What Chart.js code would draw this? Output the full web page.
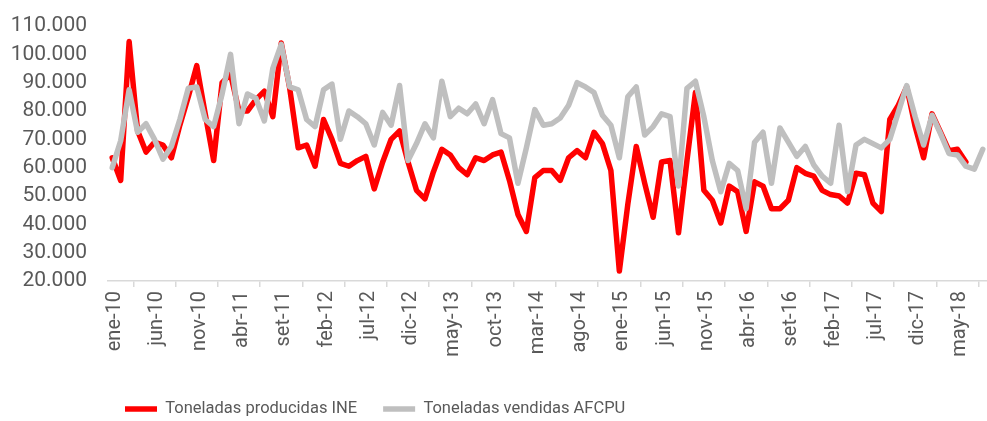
<!DOCTYPE html>
<html>
<head>
<meta charset="utf-8">
<script src="https://cdn.jsdelivr.net/npm/chart.js@4.4.1/dist/chart.umd.min.js"></script>
<style>
  html, body { margin: 0; padding: 0; background: #ffffff; }
  #wrap { width: 987px; height: 421px; position: relative; }
</style>
</head>
<body>
<div id="wrap"><canvas id="c" width="987" height="421"></canvas></div>
<script>
const monthNames = ['ene','feb','mar','abr','may','jun','jul','ago','set','oct','nov','dic'];
const years = ['10','11','12','13','14','15','16','17','18'];
const categories = [];
years.forEach(y => monthNames.forEach(m => categories.push(m + '-' + y)));
categories.length = 104; // ene-10 .. ago-18

const seriesNames = ['Toneladas producidas INE', 'Toneladas vendidas AFCPU'];

const producidasINE = [
  63500, 55500, 104500, 73000, 65500, 69000, 68000, 63500, 75000, 85000,
  96000, 79000, 62500, 90000, 93000, 80000, 80000, 84000, 87000, 78000,
  104000, 88000, 67000, 68000, 60500, 77000, 70000, 61500, 60500, 62500,
  64000, 52500, 62000, 70000, 73000, 62000, 52000, 49000, 58500, 66500,
  64500, 60000, 57500, 63500, 62500, 64500, 65500, 55500, 43500, 37500,
  56500, 59000, 59000, 55500, 63500, 66000, 63500, 72500, 68500, 59000,
  23500, 47000, 67500, 54500, 42500, 62000, 62500, 37000, 62500, 86500,
  52000, 48500, 40500, 53500, 51500, 37500, 55000, 53500, 45500, 45500,
  48500, 60000, 58000, 57000, 52000, 50500, 50000, 47500, 58000, 57500,
  47500, 44500, 77000, 82000, 88500, 74500, 63500, 79000, 72500, 66000,
  66500, 62000
];

const vendidasAFCPU = [
  60000, 69500, 87500, 72500, 75500, 70000, 63000, 67500, 77000, 88000,
  88500, 77000, 74500, 86000, 100000, 75500, 86000, 84500, 76500, 95000,
  103500, 88500, 87500, 77000, 74500, 87500, 89500, 70000, 80000, 78000,
  75500, 68000, 79500, 75000, 89000, 62500, 68500, 75500, 70500, 90500,
  78000, 81000, 79000, 82500, 75500, 84000, 72000, 70500, 54500, 67000,
  80500, 75000, 75500, 77500, 82000, 90000, 88500, 86500, 78500, 75000,
  63500, 85000, 88500, 71500, 74500, 79000, 78000, 53500, 88000, 90500,
  78000, 62500, 51500, 61500, 59000, 45500, 69000, 72500, 54500, 74000,
  69000, 64000, 67500, 61000, 57000, 54500, 75000, 51500, 68000, 70000,
  68500, 67000, 70000, 79500, 89000, 78000, 68000, 78500, 72000, 65000,
  64500, 60500, 59500, 66500
];

const yMin = 20000, yMax = 110000, yStep = 10000;
const labelEvery = 5;

function fmtThousands(v) {
  return String(v).replace(/\B(?=(\d{3})+(?!\d))/g, '.');
}

const TEXT = '#595959';
const AXIS = '#d9d9d9';
const FONT = 'Roboto';

const PLOT_BOTTOM = 281;
const PLOT_LEFT = 108;
const LEGEND_X = 125;
const LEGEND_CY = 409;

const legendPlacer = {
  id: 'legendPlacer',
  afterLayout(chart) {
    const l = chart.legend;
    if (!l) return;
    const pad = l.options.labels.padding;
    const dx = (LEGEND_X - pad) - l.left;
    l.left += dx; l.right += dx;
    const fs = l.options.labels.font.size;
    const dy = (LEGEND_CY - fs / 2 - pad) - l.top;
    l.top += dy; l.bottom += dy;
  }
};

new Chart(document.getElementById('c'), {
  type: 'line',
  data: {
    labels: categories,
    datasets: [
      {
        label: seriesNames[0],
        data: producidasINE,
        borderColor: '#ff0000',
        backgroundColor: '#ff0000',
        borderWidth: 5.5,
        pointRadius: 0,
        tension: 0,
        borderJoinStyle: 'round',
        borderCapStyle: 'round',
        fill: false,
        order: 1
      },
      {
        label: seriesNames[1],
        data: vendidasAFCPU,
        borderColor: '#bfbfbf',
        backgroundColor: '#bfbfbf',
        borderWidth: 5.5,
        pointRadius: 0,
        tension: 0,
        borderJoinStyle: 'round',
        borderCapStyle: 'round',
        fill: false,
        order: 0
      }
    ]
  },
  options: {
    responsive: false,
    animation: false,
    devicePixelRatio: 1,
    layout: { autoPadding: false, padding: { top: 26, right: 0, bottom: 0, left: 0 } },
    plugins: {
      tooltip: { enabled: false },
      legend: {
        display: true,
        position: 'bottom',
        align: 'start',
        labels: {
          color: TEXT,
          font: { family: FONT, size: 16.5 },
          usePointStyle: true,
          pointStyle: 'line',
          pointStyleWidth: 32,
          padding: 26,
          sort: (a, b) => a.datasetIndex - b.datasetIndex
        }
      }
    },
    scales: {
      x: {
        type: 'category',
        offset: true,
        grid: {
          display: true,
          offset: true,
          drawOnChartArea: false,
          drawTicks: true,
          tickLength: 6,
          color: AXIS,
          lineWidth: 1.5
        },
        border: { display: true, color: AXIS, width: 1.5 },
        ticks: {
          autoSkip: false,
          maxRotation: 90,
          minRotation: 90,
          padding: 4,
          labelOffset: 3,
          color: TEXT,
          font: { family: FONT, size: 20 },
          callback: function (value, index) {
            return index % labelEvery === 0 ? categories[index] : null;
          }
        },
        afterFit(s) {
          s.paddingLeft = 0; s.paddingRight = 0;
          const lh = s.chart.legend ? s.chart.legend.height : 0;
          s.height = 421 - PLOT_BOTTOM - lh;
        }
      },
      y: {
        min: yMin,
        max: yMax,
        grid: { display: false, drawTicks: false },
        border: { display: false },
        ticks: {
          stepSize: yStep,
          padding: 21,
          color: TEXT,
          font: { family: FONT, size: 21 },
          callback: v => fmtThousands(v)
        },
        afterFit(s) {
          s.width = PLOT_LEFT;
          s.paddingTop = 0; s.paddingBottom = 0;
        }
      }
    }
  },
  plugins: [legendPlacer]
});
</script>
</body>
</html>
